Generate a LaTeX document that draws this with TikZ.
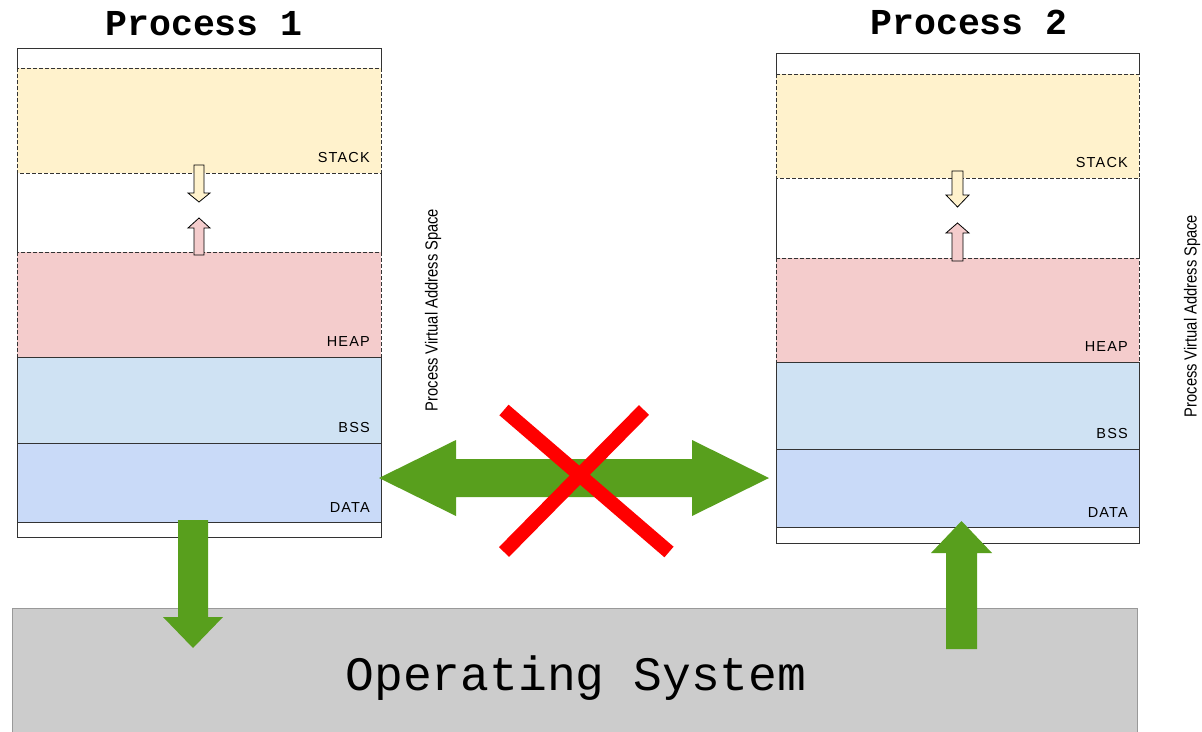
\documentclass[tikz,border=0pt]{standalone}
\usepackage{fontspec}
\setmainfont{Liberation Sans}
\newfontfamily\monofont{Liberation Mono}
\newfontfamily\narrowfont[FakeStretch=0.84]{Liberation Sans}
\newfontfamily\lblfont[LetterSpace=8]{Liberation Sans}
\usetikzlibrary{calc}
\definecolor{stackc}{HTML}{FFF2CC}
\definecolor{heapc}{HTML}{F4CCCC}
\definecolor{bssc}{HTML}{CFE2F3}
\definecolor{datac}{HTML}{C9DAF8}
\definecolor{osgray}{HTML}{CCCCCC}
\definecolor{osedge}{HTML}{999999}
\definecolor{arrgreen}{RGB}{88,159,29}
\definecolor{edge}{HTML}{333333}
\tikzset{
  seg/.style={inner sep=0pt, outer sep=0pt, anchor=north west},
  solidedge/.style={draw=edge, line width=1pt},
  dashedge/.style={draw=edge, line width=1pt, dash pattern=on 4pt off 2pt},
  seglbl/.style={font=\lblfont\fontsize{14.5}{15}\selectfont, anchor=base east, inner sep=0pt},
  ptitle/.style={font=\monofont\bfseries\fontsize{36.5}{37}\selectfont, inner sep=0pt},
  vaslbl/.style={font=\narrowfont\fontsize{17.5}{18}\selectfont, rotate=90, inner sep=0pt},
  growarr/.style={draw=black, line width=0.8pt, line join=miter},
  bigarr/.style={fill=arrgreen},
  cross/.style={draw=red, line width=14pt},
}

\begin{document}
\begin{tikzpicture}[x=1pt, y=-1pt]
  \useasboundingbox (0,0) rectangle (1202,731);
  \clip (0,0) rectangle (1202,731);
%---------------- operating system ----------------
  \draw[fill=osgray, draw=osedge, line width=1pt] (12,608) rectangle (1137,740);
  \node[font=\monofont\fontsize{48}{48}\selectfont] (os) at (576,678) {Operating System};
%---------------- process 1 ----------------
  \node[ptitle] (p1title) at (204,24) {Process 1};
  \node[seg, minimum width=364pt, minimum height=20pt] (p1top) at (17,48) {};
  \node[seg, fill=stackc, minimum width=364pt, minimum height=105pt] (p1stack) at (17,68) {};
  \node[seg, minimum width=364pt, minimum height=79pt] (p1gap) at (17,173) {};
  \node[seg, fill=heapc, minimum width=364pt, minimum height=105pt] (p1heap) at (17,252) {};
  \node[seg, fill=bssc, minimum width=364pt, minimum height=86pt] (p1bss) at (17,357) {};
  \node[seg, fill=datac, minimum width=364pt, minimum height=79pt] (p1data) at (17,443) {};
  \node[seg, minimum width=364pt, minimum height=15pt] (p1bot) at (17,522) {};
  % outlines: stack and heap dashed, the rest solid
  \draw[solidedge] (p1top.south west) -- (p1top.north west) -- (p1top.north east) -- (p1top.south east);
  \draw[solidedge] (p1gap.north west) -- (p1gap.south west) (p1gap.north east) -- (p1gap.south east);
  \draw[dashedge] (p1stack.north west) rectangle (p1stack.south east);
  \draw[dashedge] (p1heap.north west) rectangle (p1heap.south east);
  \draw[solidedge] (p1bss.north west) rectangle (p1bss.south east);
  \draw[solidedge] (p1data.north west) rectangle (p1data.south east);
  \draw[solidedge] (p1bot.north west) rectangle (p1bot.south east);
  \node[seglbl] (p1stacklbl) at ([shift={(-11,-11)}]p1stack.south east) {STACK};
  \node[seglbl] (p1heaplbl) at ([shift={(-11,-11)}]p1heap.south east) {HEAP};
  \node[seglbl] (p1bsslbl) at ([shift={(-11,-11)}]p1bss.south east) {BSS};
  \node[seglbl] (p1datalbl) at ([shift={(-11,-10)}]p1data.south east) {DATA};
  % stack grows down, heap grows up
  \draw[growarr, fill=stackc] (194,165) -- (204,165) -- (204,193) -- (210,193) -- (199,202) -- (188,193) -- (194,193) -- cycle;
  \draw[growarr, fill=heapc] (194,255) -- (204,255) -- (204,228) -- (210,228) -- (199,218) -- (188,228) -- (194,228) -- cycle;
  \node[vaslbl] (p1vas) at (433,310) {Process Virtual Address Space};
%---------------- process 2 ----------------
  \node[ptitle] (p2title) at (969,22) {Process 2};
  \node[seg, minimum width=363pt, minimum height=21pt] (p2top) at (776,53) {};
  \node[seg, fill=stackc, minimum width=363pt, minimum height=104pt] (p2stack) at (776,74) {};
  \node[seg, minimum width=363pt, minimum height=80pt] (p2gap) at (776,178) {};
  \node[seg, fill=heapc, minimum width=363pt, minimum height=104pt] (p2heap) at (776,258) {};
  \node[seg, fill=bssc, minimum width=363pt, minimum height=87pt] (p2bss) at (776,362) {};
  \node[seg, fill=datac, minimum width=363pt, minimum height=78pt] (p2data) at (776,449) {};
  \node[seg, minimum width=363pt, minimum height=16pt] (p2bot) at (776,527) {};
  \draw[solidedge] (p2top.south west) -- (p2top.north west) -- (p2top.north east) -- (p2top.south east);
  \draw[solidedge] (p2gap.north west) -- (p2gap.south west) (p2gap.north east) -- (p2gap.south east);
  \draw[dashedge] (p2stack.north west) rectangle (p2stack.south east);
  \draw[dashedge] (p2heap.north west) rectangle (p2heap.south east);
  \draw[solidedge] (p2bss.north west) rectangle (p2bss.south east);
  \draw[solidedge] (p2data.north west) rectangle (p2data.south east);
  \draw[solidedge] (p2bot.north west) rectangle (p2bot.south east);
  \node[seglbl] (p2stacklbl) at ([shift={(-11,-11)}]p2stack.south east) {STACK};
  \node[seglbl] (p2heaplbl) at ([shift={(-11,-11)}]p2heap.south east) {HEAP};
  \node[seglbl] (p2bsslbl) at ([shift={(-11,-11)}]p2bss.south east) {BSS};
  \node[seglbl] (p2datalbl) at ([shift={(-11,-10)}]p2data.south east) {DATA};
  \draw[growarr, fill=stackc] (952,171) -- (963,171) -- (963,195) -- (969,195) -- (957.5,207) -- (946,195) -- (952,195) -- cycle;
  \draw[growarr, fill=heapc] (952,261) -- (963,261) -- (963,233) -- (969,233) -- (957.5,223) -- (946,233) -- (952,233) -- cycle;
  \node[vaslbl] (p2vas) at (1192,316) {Process Virtual Address Space};
%---------------- traffic between them ----------------
  % no direct path between the two processes
  \fill[bigarr] (379,478) -- (456,440) -- (456,459) -- (692,459) -- (692,440) -- (769,478)
    -- (692,516) -- (692,497) -- (456,497) -- (456,516) -- cycle;
  \draw[cross] (504,410) -- (669,552);
  \draw[cross] (644,410) -- (504,552);
  % only through the operating system
  \fill[bigarr] (178,520) -- (208,520) -- (208,617) -- (223,617) -- (193,648) -- (163,617) -- (178,617) -- cycle;
  \fill[bigarr] (946,649) -- (977,649) -- (977,553) -- (992,553) -- (961.5,521) -- (931,553) -- (946,553) -- cycle;
\end{tikzpicture}
\end{document}
